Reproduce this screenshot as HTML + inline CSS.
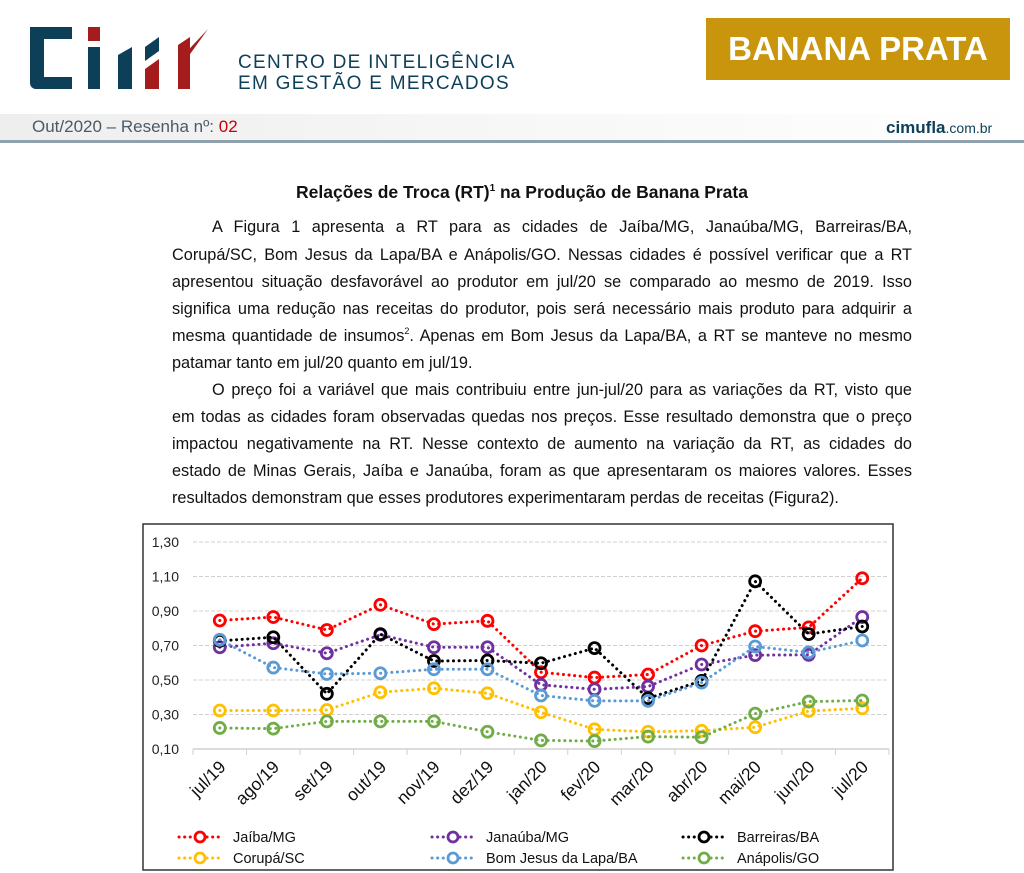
<!DOCTYPE html>
<html><head><meta charset="utf-8">
<style>
body{margin:0;background:#fff;width:1024px;height:873px;overflow:hidden;position:relative;font-family:"Liberation Sans",sans-serif}
.abs{position:absolute}
.ln{position:absolute;left:172px;width:740px;font-size:16.3px;line-height:20px;text-align:justify;text-align-last:justify;color:#111;white-space:nowrap}
.ln.last{text-align-last:left}
.ln.ind{left:212px;width:700px}
.sp{font-size:9px;vertical-align:baseline;position:relative;top:-7px;line-height:0}
</style></head><body>
<div class="abs" style="left:28px;top:25px;width:190px;height:66px">
<svg width="190" height="66" viewBox="0 0 190 66">
<path d="M2 2h42v12H16v38h28v12H8a6 6 0 0 1-6-6z" fill="#0e3f58"/>
<rect x="60" y="2" width="12" height="14" fill="#a51c1c"/>
<path d="M60 22h12v42H60z" fill="#0e3f58"/>
<path d="M90 30l14-8v42H90z" fill="#0e3f58"/>
<path d="M117 44l14-10v30h-14z" fill="#a51c1c"/>
<path d="M117 22l14-10v14l-14 10z" fill="#0e3f58"/>
<path d="M150 20l12-8v52h-12z" fill="#a51c1c"/>
<path d="M150 36L180 4l-20 28z" fill="#a51c1c"/>
</svg></div>
<div class="abs" style="left:238px;top:52px;font-size:19px;line-height:21px;color:#0e3f58;letter-spacing:1.3px">CENTRO DE INTELIGÊNCIA<br>EM GESTÃO E MERCADOS</div>
<div class="abs" style="left:706px;top:18px;width:304px;height:62px;background:#c8950d;color:#fff;font-weight:bold;font-size:33px;line-height:62px;text-align:center">BANANA PRATA</div>
<div class="abs" style="left:0;top:114px;width:1024px;height:26px;background:linear-gradient(90deg,#eee,#f7f7f7 50%,#fff)"></div>
<div class="abs" style="left:0;top:140px;width:1024px;height:3px;background:#8ea1ad"></div>
<div class="abs" style="left:32px;top:117px;font-size:17px;color:#4a5a66">Out/2020 – Resenha nº: <span style="color:#c00">02</span></div>
<div class="abs" style="left:886px;top:118px;font-size:17px;color:#0e3f58"><b>cimufla</b><span style="font-size:14px">.com.br</span></div>
<div class="abs" style="left:10px;width:1024px;top:182px;text-align:center;font-weight:bold;font-size:17.5px;color:#111">Relações de Troca (RT)<span class="sp" style="font-size:10px">1</span> na Produção de Banana Prata</div>
<div>
<div class="ln ind" style="top:217px">A Figura 1 apresenta a RT para as cidades de Jaíba/MG, Janaúba/MG, Barreiras/BA,</div>
<div class="ln" style="top:245px">Corupá/SC, Bom Jesus da Lapa/BA e Anápolis/GO. Nessas cidades é possível verificar que a RT</div>
<div class="ln" style="top:272px">apresentou situação desfavorável ao produtor em jul/20 se comparado ao mesmo de 2019. Isso</div>
<div class="ln" style="top:299px">significa uma redução nas receitas do produtor, pois será necessário mais produto para adquirir a</div>
<div class="ln" style="top:326px">mesma quantidade de insumos<span class="sp">2</span>. Apenas em Bom Jesus da Lapa/BA, a RT se manteve no mesmo</div>
<div class="ln last" style="top:353px">patamar tanto em jul/20 quanto em jul/19.</div>
</div>
<div>
<div class="ln ind" style="top:380px">O preço foi a variável que mais contribuiu entre jun-jul/20 para as variações da RT, visto que</div>
<div class="ln" style="top:407px">em todas as cidades foram observadas quedas nos preços. Esse resultado demonstra que o preço</div>
<div class="ln" style="top:434px">impactou negativamente na RT. Nesse contexto de aumento na variação da RT, as cidades do</div>
<div class="ln" style="top:461px">estado de Minas Gerais, Jaíba e Janaúba, foram as que apresentaram os maiores valores. Esses</div>
<div class="ln last" style="top:488px">resultados demonstram que esses produtores experimentaram perdas de receitas (Figura2).</div>
</div>
<svg class="abs" style="left:0;top:0" width="1024" height="873" id="chart"></svg>
<script>
const categories=["jul/19","ago/19","set/19","out/19","nov/19","dez/19","jan/20","fev/20","mar/20","abr/20","mai/20","jun/20","jul/20"];
const yTicks=[0.10,0.30,0.50,0.70,0.90,1.10,1.30];
const seriesNames=["Jaíba/MG","Janaúba/MG","Barreiras/BA","Corupá/SC","Bom Jesus da Lapa/BA","Anápolis/GO"];
const seriesColors=["#ff0000","#7030a0","#000000","#ffc000","#5b9bd5","#70ad47"];
const jaiba=[0.845,0.865,0.79,0.936,0.824,0.843,0.545,0.514,0.532,0.70,0.783,0.805,1.09];
const janauba=[0.69,0.713,0.655,0.762,0.69,0.69,0.472,0.446,0.462,0.59,0.644,0.646,0.865];
const barreiras=[0.727,0.748,0.42,0.766,0.61,0.613,0.597,0.685,0.394,0.495,1.072,0.766,0.81];
const corupa=[0.323,0.323,0.326,0.429,0.452,0.423,0.313,0.214,0.20,0.206,0.226,0.32,0.336];
const bomJesus=[0.733,0.572,0.535,0.539,0.562,0.562,0.41,0.379,0.379,0.485,0.694,0.66,0.729];
const anapolis=[0.222,0.218,0.26,0.26,0.26,0.20,0.15,0.146,0.172,0.168,0.305,0.375,0.381];
const allSeries=[jaiba,janauba,barreiras,corupa,bomJesus,anapolis];
const NS="http://www.w3.org/2000/svg";
const svg=document.getElementById('chart');
const L=193,R=889,T=542,B=749;
const step=(R-L)/categories.length;
const xS=i=>L+step*(i+0.5);
const yS=v=>B-(v-0.10)/(1.30-0.10)*(B-T);
function mk(tag,attrs,name,inter){const e=document.createElementNS(NS,tag);for(const k in attrs)e.setAttribute(k,attrs[k]);


svg.appendChild(e);return e;}
mk('rect',{x:143,y:524,width:750,height:346,fill:'none',stroke:'#333','stroke-width':1.5},'chart-frame',false);
yTicks.forEach(t=>{const y=yS(t);
 if(t>0.11)mk('line',{x1:L,x2:R,y1:y,y2:y,stroke:'#d0d0d0','stroke-dasharray':'4 2'},'gridline',false);
 const tx=mk('text',{x:179,y:y+5,'text-anchor':'end','font-size':14,fill:'#222','font-family':'Liberation Sans'},'y-tick-label',false);tx.textContent=t.toFixed(2).replace('.',',');});
mk('line',{x1:L,x2:R,y1:B,y2:B,stroke:'#d0d0d0','stroke-width':1.5},'x-axis',false);
for(let i=0;i<=categories.length;i++){const x=L+step*i;mk('line',{x1:x,x2:x,y1:B,y2:B+6,stroke:'#d0d0d0'},'x-tick',false);}
categories.forEach((c,i)=>{const x=xS(i)+7;const t=mk('text',{x:x,y:768,'text-anchor':'end','font-size':17.5,fill:'#111','font-family':'Liberation Sans',transform:`rotate(-45 ${x} 768)`},'x-tick-label',false);t.textContent=c;});
allSeries.forEach((s,k)=>{const col=seriesColors[k];
 mk('polyline',{points:s.map((v,i)=>xS(i)+','+yS(v)).join(' '),fill:'none',stroke:col,'stroke-width':3,'stroke-dasharray':'0.1 5.5','stroke-linecap':'round'},'series-line',false);
 s.forEach((v,i)=>{mk('circle',{cx:xS(i),cy:yS(v),r:5.5,fill:'none',stroke:col,'stroke-width':2.8},'data-point',false);});});
const lx=[179,432,683],ly=[837,858];
seriesNames.forEach((n,k)=>{const x=lx[k%3],y=ly[Math.floor(k/3)],col=seriesColors[k];
 mk('line',{x1:x,x2:x+42,y1:y,y2:y,stroke:col,'stroke-width':3,'stroke-dasharray':'0.1 5.5','stroke-linecap':'round'},'legend-line',false);
 mk('circle',{cx:x+21,cy:y,r:5,fill:'#fff',stroke:col,'stroke-width':2.8},'legend-marker',false);
 const t=mk('text',{x:x+54,y:y+5,'font-size':14.5,fill:'#111','font-family':'Liberation Sans'},'legend-entry',false);t.textContent=n;});
</script>
</body></html>
